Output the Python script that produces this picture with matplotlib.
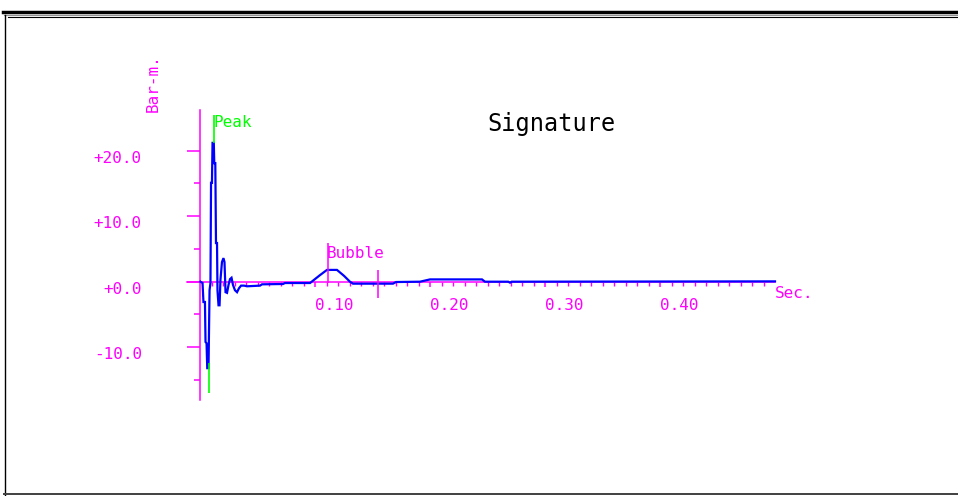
import matplotlib
matplotlib.use("Agg")
import matplotlib.pyplot as plt
from matplotlib.lines import Line2D
from matplotlib.ticker import FixedLocator, FixedFormatter

# ---- data ----
time_s = [0.0004, 0.0022, 0.0030, 0.0043, 0.0048, 0.0057, 0.0063, 0.0074, 0.0083, 0.0091,
          0.0096, 0.0104, 0.0109, 0.0120, 0.0124, 0.0133, 0.0139, 0.0148, 0.0152, 0.0161,
          0.0170, 0.0178, 0.0191, 0.0204, 0.0213, 0.0222, 0.0235, 0.0248, 0.0261, 0.0274,
          0.0287, 0.0304, 0.0322, 0.0339, 0.0357, 0.0383, 0.0409, 0.0522, 0.0539, 0.0722,
          0.0739, 0.0957, 0.1000, 0.1043, 0.1104, 0.1191, 0.1252, 0.1304, 0.1330, 0.1678,
          0.1704, 0.1913, 0.2000, 0.2452, 0.2478, 0.2680, 0.2696, 0.2710, 0.5000]
pressure = [0.0, -0.2, -3.1, -3.1, -9.2, -9.4, -13.2, -13.2, -1.3, -0.2,
            15.1, 15.1, 21.2, 21.2, 18.1, 18.1, 5.9, 5.9, -1.3, -3.6,
            -3.6, 0.3, 3.0, 3.6, 3.0, -1.6, -1.7, -0.5, 0.4, 0.6,
            -0.5, -1.3, -1.6, -1.0, -0.6, -0.6, -0.7, -0.6, -0.4, -0.35,
            -0.2, -0.2, 0.4, 1.0, 1.8, 1.8, 0.9, 0.0, -0.3, -0.3,
            -0.05, 0.0, 0.35, 0.35, 0.0, 0.0, -0.15, 0.0, 0.05]

y_major = [-10, 0, 10, 20]
y_major_labels = ["-10.0", "+0.0", "+10.0", "+20.0"]
y_minor = [-15, -5, 5, 15]
x_major = [0.10, 0.20, 0.30, 0.40]
x_major_labels = ["0.10", "0.20", "0.30", "0.40"]
x_minor = [i / 100 for i in range(1, 50)]

peak_t, peak_span = 0.0124, (21.2, 25.4)
trough_t, trough_span = 0.0076, (-12.4, -17.0)
bubble_t, bubble_span = 0.1113, (-0.2, 5.9)
window_t, window_span = 0.1545, (-2.5, 1.8)

x_range = (-0.0113, 0.5)
y_range = (-18.1, 26.2)

PINK = "#ff00ff"
BLUE = "#0000ff"
GREEN = "#00ff00"
FONT = "DejaVu Sans Mono"

W, H = 958, 496
fig = plt.figure(figsize=(W / 100, H / 100), dpi=100)
fig.patch.set_facecolor("white")

ax = fig.add_axes([0, 0, 1, 1])
ax.set_xlim(-200 / 1150, (W - 200) / 1150)
ax.set_ylim(-(H - 281.7) / 6.55, 281.7 / 6.55)
ax.patch.set_alpha(0)

for s in ("top", "right"):
    ax.spines[s].set_visible(False)
ax.spines["left"].set_position(("data", 0))
ax.spines["bottom"].set_position(("data", 0))
ax.spines["left"].set_bounds(*y_range)
ax.spines["bottom"].set_bounds(*x_range)
for s in ("left", "bottom"):
    ax.spines[s].set_color(PINK)
    ax.spines[s].set_linewidth(1.1)

ax.yaxis.set_major_locator(FixedLocator(y_major))
ax.yaxis.set_major_formatter(FixedFormatter(y_major_labels))
ax.yaxis.set_minor_locator(FixedLocator(y_minor))
ax.xaxis.set_major_locator(FixedLocator(x_major))
ax.xaxis.set_major_formatter(FixedFormatter(x_major_labels))
ax.xaxis.set_minor_locator(FixedLocator(x_minor))

ax.tick_params(axis="y", which="major", direction="out", length=9.4, width=1.1,
               color=PINK, labelcolor=PINK, pad=32.4, labelsize=11.5)
ax.tick_params(axis="y", which="minor", direction="out", length=4.3, width=1.1, color=PINK)
ax.tick_params(axis="x", which="major", direction="out", length=3.6, width=1.1,
               color=PINK, labelcolor=PINK, pad=8.0, labelsize=11.5)
ax.tick_params(axis="x", which="minor", direction="out", length=2.6, width=1.0, color=PINK)

for lbl in ax.get_yticklabels():
    lbl.set_fontfamily(FONT)
    lbl.set_va("top")
for lbl in ax.get_xticklabels():
    lbl.set_fontfamily(FONT)
    lbl.set_ha("left")

# waveform
ax.plot(time_s, pressure, color=BLUE, lw=1.6, zorder=3, solid_joinstyle="miter")

# markers
ax.vlines(peak_t, *peak_span, color=GREEN, lw=1.2, zorder=4)
ax.vlines(trough_t, *trough_span, color=GREEN, lw=1.2, zorder=4)
ax.vlines(bubble_t, *bubble_span, color=PINK, lw=1.1, zorder=4)
ax.vlines(window_t, *window_span, color=PINK, lw=1.1, zorder=4)

ax.text(0.0120, 25.45, "Peak", color=GREEN, fontsize=11.5, family=FONT, ha="left", va="top")
ax.text(0.1104, 5.45, "Bubble", color=PINK, fontsize=11.5, family=FONT, ha="left", va="top")
ax.text(0.5, -0.6, "Sec.", color=PINK, fontsize=11.5, family=FONT, ha="left", va="top")
ax.text(-0.0409, 25.9, "Bar-m.", color=PINK, fontsize=11.5, family=FONT, rotation=90,
        ha="center", va="bottom")
ax.text(0.3057, 24.08, "Signature", color="black", fontsize=17, family=FONT,
        ha="center", va="center")

# page frame
def fx(px):
    return px / W

def fy(py):
    return 1 - py / H

fig.add_artist(Line2D([fx(3), 1], [fy(11.6), fy(11.6)], color="black", lw=2.5,
                      transform=fig.transFigure))
fig.add_artist(Line2D([fx(4), 1], [fy(15.2), fy(15.2)], color="#909090", lw=0.8,
                      transform=fig.transFigure))
fig.add_artist(Line2D([fx(8), 1], [fy(16.6), fy(16.6)], color="black", lw=0.8,
                      transform=fig.transFigure))
fig.add_artist(Line2D([fx(4.7), fx(4.7)], [fy(15), fy(494.5)], color="black", lw=1.0,
                      transform=fig.transFigure))
fig.add_artist(Line2D([fx(4), 1], [fy(494.2), fy(494.2)], color="#404040", lw=1.4,
                      transform=fig.transFigure))

fig.savefig("out.png", dpi=100)
